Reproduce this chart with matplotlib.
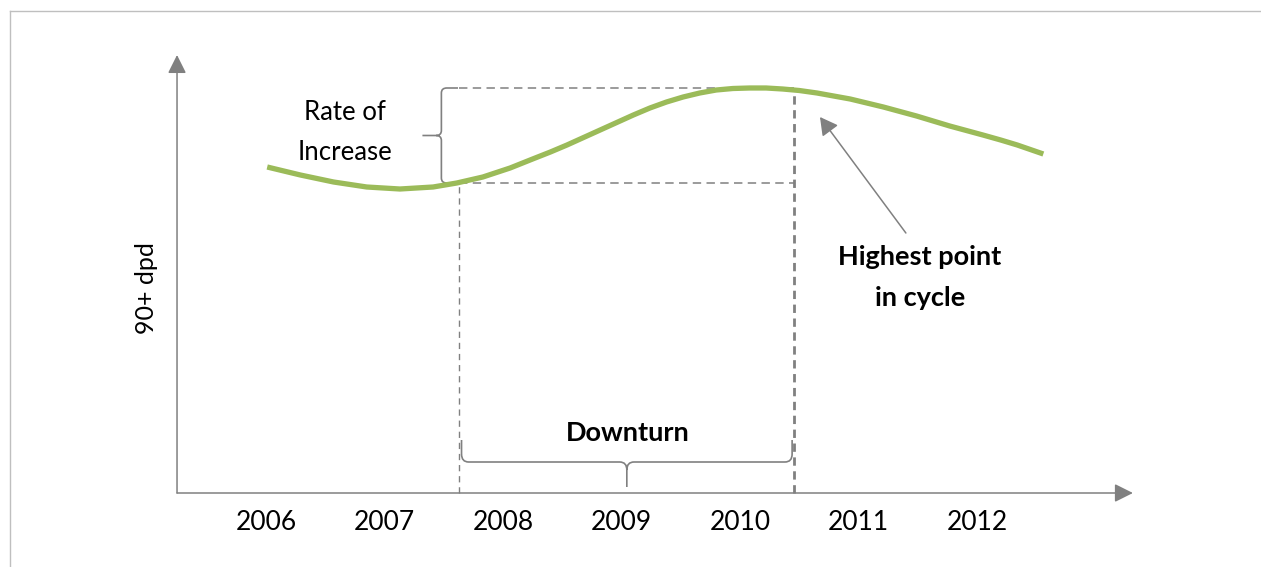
import numpy as np
import matplotlib
matplotlib.use("Agg")
import matplotlib.pyplot as plt
from matplotlib.patches import FancyArrowPatch, PathPatch
from matplotlib.path import Path
from matplotlib.lines import Line2D

plt.rcParams['font.family'] = ['Lato', 'DejaVu Sans']

# curve: year vs 90+ dpd level (arbitrary units)
years = [2006.01, 2006.29, 2006.57, 2006.85, 2007.13, 2007.41, 2007.61, 2007.83,
         2008.06, 2008.25, 2008.40, 2008.54, 2008.68, 2008.82, 2008.96, 2009.10,
         2009.24, 2009.38, 2009.52, 2009.66, 2009.80, 2009.94, 2010.08, 2010.22,
         2010.36, 2010.50, 2010.65, 2010.79, 2010.93, 2011.07, 2011.21, 2011.35,
         2011.49, 2011.63, 2011.77, 2011.91, 2012.05, 2012.20, 2012.34, 2012.56]
dpd = [3.26, 3.18, 3.11, 3.06, 3.04, 3.06, 3.10, 3.16,
       3.25, 3.34, 3.41, 3.48, 3.555, 3.63, 3.705, 3.78,
       3.85, 3.91, 3.96, 4.00, 4.03, 4.045, 4.05, 4.05,
       4.04, 4.025, 4.00, 3.97, 3.94, 3.90, 3.86, 3.815,
       3.77, 3.72, 3.67, 3.625, 3.58, 3.53, 3.48, 3.39]
tick_years = [2006, 2007, 2008, 2009, 2010, 2011, 2012]

downturn_start = 2007.63
downturn_end = 2010.46
low_level = 3.10
high_level = 4.05

GREY = '#808080'
GREEN = '#9BBB59'


def brace_path(a0, a1, base, depth, end_rise, r_a, r_b, vertical):
    """Curly brace between a0 and a1; ends sit at `base`, tip points `depth` away."""
    mid = (a0 + a1) / 2
    spine = base + end_rise
    tip = spine + depth
    s = np.sign(depth)
    pts = [(a0, base), (a0, spine - s * r_b), (a0, spine), (a0 + r_a, spine),
           (mid - r_a, spine), (mid, spine), (mid, spine + s * r_b), (mid, tip),
           (mid, spine + s * r_b), (mid, spine), (mid + r_a, spine),
           (a1 - r_a, spine), (a1, spine), (a1, spine - s * r_b), (a1, base)]
    codes = [Path.MOVETO, Path.LINETO, Path.CURVE3, Path.CURVE3,
             Path.LINETO, Path.CURVE3, Path.CURVE3, Path.LINETO,
             Path.MOVETO, Path.CURVE3, Path.CURVE3,
             Path.LINETO, Path.CURVE3, Path.CURVE3, Path.LINETO]
    if vertical:
        pts = [(b, a) for a, b in pts]
    return Path(pts, codes)


fig = plt.figure(figsize=(12.61, 5.67), dpi=100)
ax = fig.add_axes([0, 0, 1, 1])
ax.set_xlim(2003.755, 2014.397)
ax.set_ylim(-0.74, 4.93)
ax.axis('off')

# frame around the picture
fig.add_artist(Line2D([10 / 1261, 10 / 1261], [0, 1 - 11 / 567], color='#BFBFBF',
                      lw=1.0, transform=fig.transFigure))
fig.add_artist(Line2D([10 / 1261, 1], [1 - 11 / 567, 1 - 11 / 567], color='#BFBFBF',
                      lw=1.0, transform=fig.transFigure))

# axes with arrow heads
y_axis_x = 2005.249
for start, end in [((y_axis_x, 0), (y_axis_x, 4.38)), ((y_axis_x, 0), (2013.316, 0))]:
    ax.add_patch(FancyArrowPatch(start, end, arrowstyle='-|>,head_length=0.4,head_width=0.2',
                                 mutation_scale=28, color=GREY, lw=1.1,
                                 shrinkA=0, shrinkB=0))

for yr in tick_years:
    ax.text(yr, -0.30, str(yr), ha='center', va='center', fontsize=19)
ax.text(2004.99, 2.05, '90+ dpd', rotation=90, ha='center', va='center', fontsize=18)

# guide lines
ax.plot([downturn_start, downturn_end], [high_level, high_level], color=GREY, lw=1.1,
        dashes=(5.5, 3.5), zorder=2)
ax.plot([downturn_start, downturn_end], [low_level, low_level], color=GREY, lw=1.1,
        dashes=(5.5, 3.5), zorder=2)
ax.plot([downturn_start, downturn_start], [0, low_level], color=GREY, lw=1.0,
        dashes=(4.5, 3.5), zorder=2)
ax.plot([downturn_end, downturn_end], [0, high_level - 0.03], color=GREY, lw=2.0,
        dashes=(3.0, 2.0), zorder=2)

# the curve
ax.plot(years, dpd, color=GREEN, lw=3.8, solid_capstyle='butt',
        solid_joinstyle='round', zorder=4)

# braces
ax.add_patch(PathPatch(brace_path(low_level, high_level, downturn_start - 0.01, -0.16,
                                  -0.14, 0.05, 0.045, vertical=True),
                       fill=False, edgecolor=GREY, lw=1.2))
ax.add_patch(PathPatch(brace_path(downturn_start + 0.02, downturn_end - 0.02, 0.53, -0.25,
                                  -0.22, 0.06, 0.08, vertical=False),
                       fill=False, edgecolor=GREY, lw=1.2))

ax.text(2006.667, 3.81, 'Rate of', ha='center', va='center', fontsize=18.5)
ax.text(2006.667, 3.40, 'Increase', ha='center', va='center', fontsize=18.5)
ax.text(2009.055, 0.60, 'Downturn', ha='center', va='center', fontsize=19.5,
        fontweight='bold')

# pointer to the peak
ax.add_patch(FancyArrowPatch((2011.40, 2.60), (2010.675, 3.76),
                             arrowstyle='-|>,head_length=0.4,head_width=0.22',
                             mutation_scale=27, color=GREY, lw=1.1, shrinkA=0, shrinkB=0))
ax.text(2011.52, 2.36, 'Highest point', ha='center', va='center', fontsize=19.5,
        fontweight='bold')
ax.text(2011.52, 1.95, 'in cycle', ha='center', va='center', fontsize=19.5,
        fontweight='bold')

fig.savefig('out.png', dpi=100)
